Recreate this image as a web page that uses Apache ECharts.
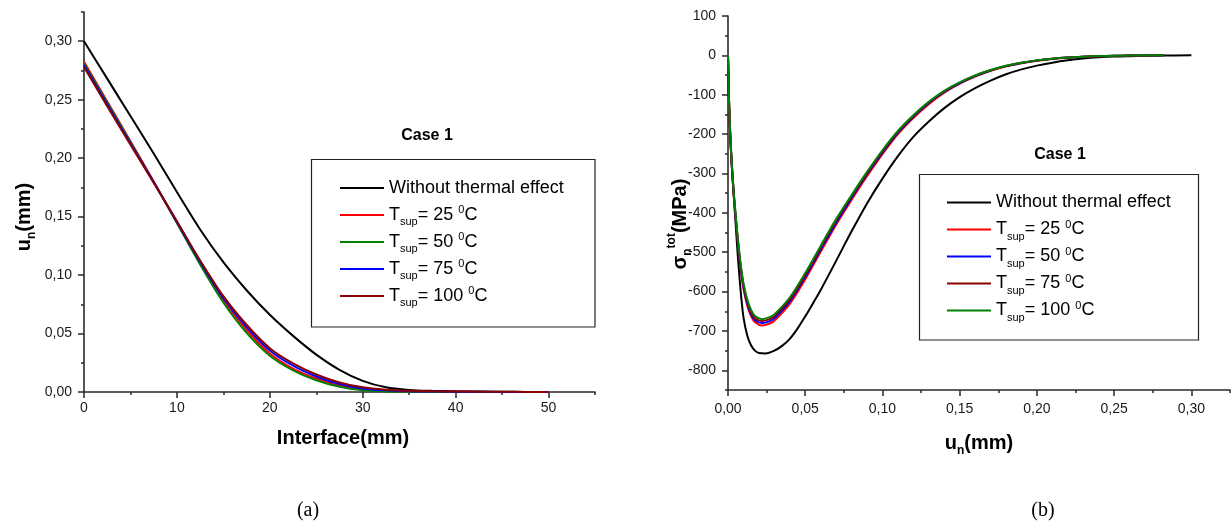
<!DOCTYPE html>
<html>
<head>
<meta charset="utf-8">
<script src="https://cdn.jsdelivr.net/npm/echarts@6/dist/echarts.min.js"></script>
<style>
html,body{margin:0;padding:0;background:#fff;}
#chart{width:1232px;height:529px;}
</style>
</head>
<body>
<div id="chart"></div>
<script>
// ---------- Panel (a): u_n vs interface ----------
const X_LEFT = [0,2.5,5,7.5,10,12.5,15,17.5,20,22.5,25,27.5,30,32.5,35,37.5,40,42.5,45,47.5,50];
const LEFT_NO_THERMAL = [0.300,0.268,0.236,0.204,0.171,0.139,0.111,0.087,0.066,0.048,0.032,0.019,0.0095,0.004,0.0018,0.001,0.0006,0.0004,0.0002,0.0001,0];
const LEFT_T25  = [0.2825,0.2485,0.2145,0.180,0.145,0.110,0.0785,0.053,0.033,0.020,0.0115,0.0056,0.0022,0.0009,0.0005,0.0003,0.0002,0.0001,0.0001,0,0];
const LEFT_T50  = [0.281,0.2475,0.2135,0.1795,0.1445,0.109,0.0765,0.0505,0.031,0.0185,0.010,0.0045,0.0015,0.0005,0.0002,0.0001,0.0001,0,0,0,0];
const LEFT_T75  = [0.2795,0.246,0.2125,0.1795,0.1455,0.1115,0.0805,0.0555,0.0355,0.0225,0.0133,0.0068,0.003,0.0014,0.0007,0.0004,0.0003,0.0002,0.0001,0.00005,0];
const LEFT_T100 = [0.278,0.2445,0.2115,0.179,0.146,0.1125,0.082,0.0575,0.0375,0.0245,0.015,0.0082,0.004,0.002,0.001,0.0006,0.0004,0.0003,0.0002,0.0001,0];

// ---------- Panel (b): sigma_n^tot vs u_n ----------
const X_RIGHT_NO_THERMAL = [0,0.0005,0.001,0.002,0.003,0.004,0.006,0.008,0.010,0.0125,0.015,0.0175,0.020,0.0243,0.030,0.035,0.040,0.045,0.050,0.055,0.060,0.070,0.080,0.090,0.100,0.110,0.120,0.130,0.140,0.150,0.160,0.170,0.180,0.190,0.200,0.210,0.220,0.230,0.240,0.250,0.260,0.280,0.300];
const RIGHT_NO_THERMAL = [0,-90,-160,-250,-315,-372,-490,-590,-665,-712,-737,-750,-756,-757,-750,-738,-720,-694,-663,-630,-596,-522,-447,-376,-313,-256,-207,-168,-134,-106,-83,-64,-48,-35.5,-26,-18.5,-12.5,-8,-5,-3,-2,-0.5,0];
const X_RIGHT = [0,0.0005,0.001,0.002,0.003,0.004,0.006,0.008,0.010,0.0125,0.015,0.0175,0.022,0.027,0.030,0.040,0.050,0.060,0.070,0.080,0.090,0.100,0.110,0.120,0.130,0.140,0.150,0.160,0.170,0.180,0.190,0.200,0.210,0.220,0.230,0.240,0.250,0.260,0.282];
const RIGHT_T25  = [0,-91,-162,-248,-314,-369,-460,-536,-592,-636,-663,-678,-686,-681,-674,-631,-569,-499,-430,-367,-307,-251,-200,-159,-124,-95,-72,-54,-39,-28,-20,-13.5,-9,-5.8,-3.7,-2.1,-1.3,-0.6,0];
const RIGHT_T50  = [0,-90,-161,-246,-311,-367,-457,-532,-588,-631,-658,-673,-680,-675,-668,-625,-563,-493,-425,-362,-302,-247,-197,-156,-121,-93,-71,-52.5,-38.5,-27.3,-19.2,-13.1,-8.6,-5.6,-3.5,-2,-1.2,-0.6,0];
const RIGHT_T75  = [0,-90,-160,-244,-309,-364,-453,-528,-583,-626,-653,-668,-675,-670,-663,-620,-558,-488,-420,-358,-299,-244,-194,-154,-119,-91.5,-69.5,-51.5,-37.8,-26.8,-18.9,-12.9,-8.4,-5.4,-3.4,-2,-1.2,-0.6,0];
const RIGHT_T100 = [0,-89,-158,-242,-307,-361,-450,-524,-578,-620,-647,-662,-670,-665,-658,-615,-553,-484,-416,-355,-296,-241,-192,-152,-118,-90,-68.5,-51,-37.3,-26.5,-18.6,-12.7,-8.3,-5.3,-3.3,-1.9,-1.1,-0.5,0];

// ---------- Tick labels ----------
const LEFT_X_TICKS = [0,10,20,30,40,50];
const LEFT_X_MINOR = [5,15,25,35,45,55];
const LEFT_Y_TICKS = [0,0.05,0.10,0.15,0.20,0.25,0.30];
const LEFT_Y_MINOR = [0.025,0.075,0.125,0.175,0.225,0.275,0.325];
const RIGHT_X_TICKS = [0,0.05,0.10,0.15,0.20,0.25,0.30];
const RIGHT_X_MINOR = [0.025,0.075,0.125,0.175,0.225,0.275,0.325];
const RIGHT_Y_TICKS = [-800,-700,-600,-500,-400,-300,-200,-100,0,100];
const RIGHT_Y_MINOR = [-850,-750,-650,-550,-450,-350,-250,-150,-50,50];

const LEGEND_LABELS = ['Without thermal effect','T_sup= 25 °C','T_sup= 50 °C','T_sup= 75 °C','T_sup= 100 °C'];
const LEFT_COLORS  = ['#000000','#ff0000','#008000','#0000ff','#8b0000'];
const RIGHT_COLORS = ['#000000','#ff0000','#0000ff','#8b0000','#008000'];

const FONT = 'Liberation Sans, Arial, sans-serif';
const AX = '#2a2a2a';

function zip(xs, ys){ return xs.map((x,i)=>[x, ys[i]]); }
function comma2(v){ return v.toFixed(2).replace('.', ','); }

function richLabel(lbl){
  if (lbl.indexOf('T_sup') !== 0) return '{m|' + lbl + '}{s| }';
  const rest = lbl.slice(5).replace(' °C',' ');
  return '{m|T}{s|sup}{m|' + rest + '}{p|0}{m|C}';
}
const legendRich = {
  m:{fontSize:18, lineHeight:25, fontFamily:FONT, color:'#000'},
  s:{fontSize:11, lineHeight:11, fontFamily:FONT, color:'#000', padding:[14,0,0,0]},
  p:{fontSize:11, lineHeight:11, fontFamily:FONT, color:'#000', padding:[2,0,12,0]}
};
const nameMap = {};

function mkAxisMain(grid, min, max, ticks, isY, fmt, margin){
  return {
    type:'value', gridIndex:grid, min:min, max:max, position: isY ? 'left' : 'bottom',
    axisLine:{show:true, onZero:false, lineStyle:{color:AX, width:1.6}},
    axisTick:{show:true, length:6, inside:false, customValues:ticks, lineStyle:{color:AX, width:1.5}},
    axisLabel:{show:true, customValues:ticks, margin:margin, fontSize:14, fontFamily:FONT, color:'#1a1a1a', formatter:fmt},
    splitLine:{show:false}
  };
}
function mkAxisMinor(grid, min, max, ticks, isY){
  return {
    type:'value', gridIndex:grid, min:min, max:max, position: isY ? 'left' : 'bottom',
    axisLine:{show:false, onZero:false},
    axisTick:{show:true, length:3, inside:false, customValues:ticks, lineStyle:{color:AX, width:1.5}},
    axisLabel:{show:false},
    splitLine:{show:false}
  };
}

const series = [];
const leftSets = [LEFT_NO_THERMAL, LEFT_T25, LEFT_T50, LEFT_T75, LEFT_T100];
leftSets.forEach((ys,i)=>{
  const nm = 'L' + i; nameMap[nm] = richLabel(LEGEND_LABELS[i]);
  series.push({name:nm, type:'line', xAxisIndex:0, yAxisIndex:0, data:zip(X_LEFT, ys),
    symbol:'none', smooth:0.3, lineStyle:{color:LEFT_COLORS[i], width:2}, itemStyle:{color:LEFT_COLORS[i]}});
});
const rightSets = [RIGHT_NO_THERMAL, RIGHT_T25, RIGHT_T50, RIGHT_T75, RIGHT_T100];
rightSets.forEach((ys,i)=>{
  const nm = 'R' + i; nameMap[nm] = richLabel(LEGEND_LABELS[i]);
  const xs = i === 0 ? X_RIGHT_NO_THERMAL : X_RIGHT;
  series.push({name:nm, type:'line', xAxisIndex:2, yAxisIndex:2, data:zip(xs, ys),
    symbol:'none', smooth:0.3, lineStyle:{color:RIGHT_COLORS[i], width:2}, itemStyle:{color:RIGHT_COLORS[i]}});
});

const axisNameRich = {
  b:{fontSize:20, fontWeight:'bold', lineHeight:28, fontFamily:FONT, color:'#000'},
  bs:{fontSize:12, fontWeight:'bold', lineHeight:12, fontFamily:FONT, color:'#000', padding:[16,0,0,0]},
  bp:{fontSize:12, fontWeight:'bold', lineHeight:12, fontFamily:FONT, color:'#000', padding:[0,0,16,0]}
};

function mkLegend(names, left, top){
  return {data:names, orient:'vertical', left:left, top:top, itemWidth:44, itemHeight:2, itemGap:2,
    icon:'rect', selectedMode:false, padding:0, formatter:n=>nameMap[n], textStyle:{rich:legendRich}};
}

const option = {
  animation:false,
  backgroundColor:'#fff',
  grid:[
    {left:84, top:12, width:511, height:380},
    {left:728, top:16, width:502, height:374}
  ],
  xAxis:[
    mkAxisMain(0, 0, 55, LEFT_X_TICKS, false, v=>String(v), 9),
    mkAxisMinor(0, 0, 55, LEFT_X_MINOR, false),
    mkAxisMain(1, 0, 0.325, RIGHT_X_TICKS, false, comma2, 12),
    mkAxisMinor(1, 0, 0.325, RIGHT_X_MINOR, false)
  ],
  yAxis:[
    mkAxisMain(0, 0, 0.325, LEFT_Y_TICKS, true, comma2, 12),
    mkAxisMinor(0, 0, 0.325, LEFT_Y_MINOR, true),
    mkAxisMain(1, -850, 100, RIGHT_Y_TICKS, true, v=>String(v), 12),
    mkAxisMinor(1, -850, 100, RIGHT_Y_MINOR, true)
  ],
  legend:[
    mkLegend(['L0','L1','L2','L3','L4'], 340, 175.5),
    mkLegend(['R0','R1','R2','R3','R4'], 947, 190)
  ],
  graphic:[
    {type:'rect', shape:{x:311.5, y:159.5, width:283.5, height:167.5}, style:{fill:'none', stroke:'#222', lineWidth:1.2}},
    {type:'rect', shape:{x:919.5, y:174.5, width:279, height:165.5}, style:{fill:'none', stroke:'#222', lineWidth:1.2}},
    {type:'text', x:427, y:136, style:{text:'Case 1', font:'bold 16px ' + FONT, fill:'#000', align:'center', verticalAlign:'middle'}},
    {type:'text', x:1060, y:155, style:{text:'Case 1', font:'bold 16px ' + FONT, fill:'#000', align:'center', verticalAlign:'middle'}},
    {type:'text', x:343, y:438, style:{text:'Interface(mm)', font:'bold 20px ' + FONT, fill:'#000', align:'center', verticalAlign:'middle'}},
    {type:'text', x:24, y:217, rotation:Math.PI/2, style:{text:'{b|u}{bs|n}{b|(mm)}', rich:axisNameRich, align:'center', verticalAlign:'middle'}},
    {type:'text', x:979, y:443, style:{text:'{b|u}{bs|n}{b|(mm)}', rich:axisNameRich, align:'center', verticalAlign:'middle'}},
    {type:'text', x:680, y:224, rotation:Math.PI/2, style:{text:'{b|σ}{bs|n}{bp|tot}{b|(MPa)}', rich:axisNameRich, align:'center', verticalAlign:'middle'}},
    {type:'text', x:308, y:511, style:{text:'(a)', font:'20px Liberation Serif, Times New Roman, serif', fill:'#000', align:'center', verticalAlign:'middle'}},
    {type:'text', x:1043, y:511, style:{text:'(b)', font:'20px Liberation Serif, Times New Roman, serif', fill:'#000', align:'center', verticalAlign:'middle'}}
  ],
  series:series
};

const chart = echarts.init(document.getElementById('chart'), null, {renderer:'canvas'});
chart.setOption(option);
</script>
</body>
</html>
